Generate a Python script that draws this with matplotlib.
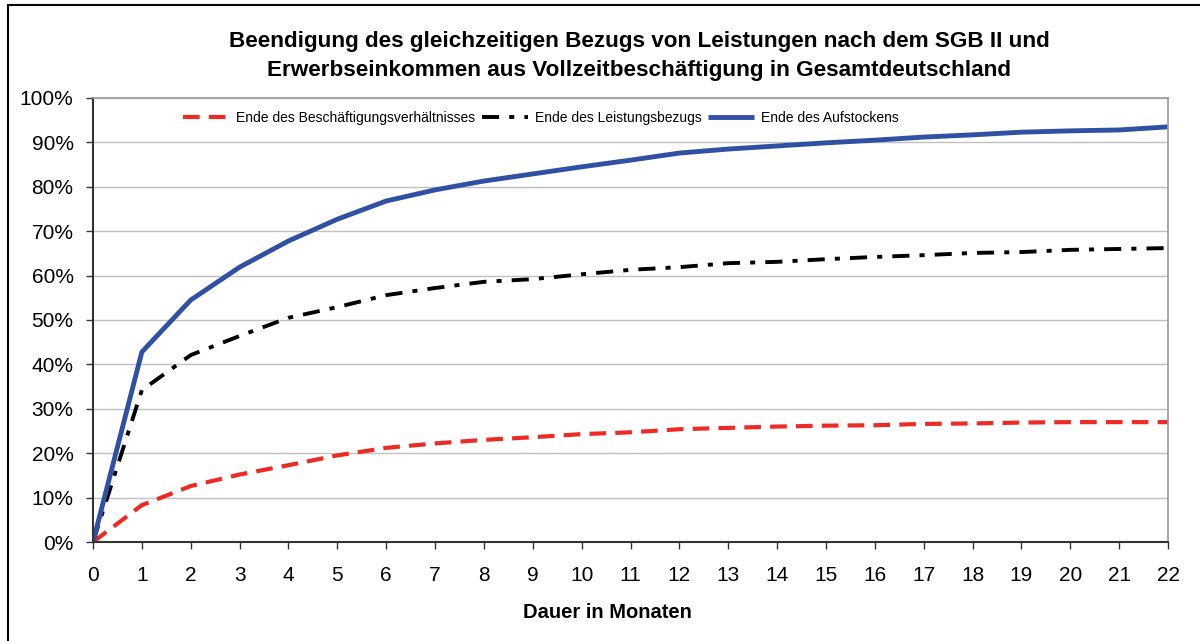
import matplotlib.pyplot as plt
from matplotlib.lines import Line2D
from matplotlib.ticker import FuncFormatter, MultipleLocator

plt.rcParams["font.family"] = ["Liberation Sans", "DejaVu Sans"]

months = list(range(23))

ende_beschaeftigung = [0, 8.3, 12.6, 15.2, 17.3, 19.5, 21.2, 22.2, 23.0, 23.6, 24.3,
                       24.7, 25.4, 25.7, 26.0, 26.2, 26.3, 26.6, 26.7, 26.9, 27.0,
                       27.0, 27.0]
ende_leistungsbezug = [0, 34.2, 42.1, 46.4, 50.5, 52.9, 55.6, 57.2, 58.6, 59.2, 60.3,
                       61.3, 61.9, 62.8, 63.1, 63.7, 64.2, 64.6, 65.1, 65.3, 65.8,
                       66.0, 66.2]
ende_aufstocken = [0, 42.8, 54.5, 61.9, 67.8, 72.7, 76.8, 79.3, 81.3, 82.9, 84.5,
                   86.0, 87.6, 88.5, 89.2, 89.9, 90.5, 91.2, 91.7, 92.3, 92.6,
                   92.8, 93.5]

labels = [
    "Ende des Beschäftigungsverhältnisses",
    "Ende des Leistungsbezugs",
    "Ende des Aufstockens",
]

fig = plt.figure(figsize=(12, 6.41), dpi=100)
ax = fig.add_axes([93 / 1200, 1 - 542 / 641, (1168 - 93) / 1200, (542 - 98) / 641])

ax.plot(months, ende_beschaeftigung, color="#ee2a24", linewidth=3,
        linestyle=(0, (4, 2.2)), label=labels[0])
ax.plot(months, ende_leistungsbezug, color="black", linewidth=2.8,
        linestyle=(0, (4.4, 2.6, 1.3, 2.6)), label=labels[1])
ax.plot(months, ende_aufstocken, color="#3050a3", linewidth=3.5,
        solid_capstyle="butt", label=labels[2])

ax.set_xlim(0, 22)
ax.set_ylim(0, 100)
ax.xaxis.set_major_locator(MultipleLocator(1))
ax.yaxis.set_major_locator(MultipleLocator(10))
ax.yaxis.set_major_formatter(FuncFormatter(lambda v, _: f"{v:.0f}%"))
ax.tick_params(axis="both", labelsize=15, direction="out", length=5,
               width=1, color="#333333")
ax.tick_params(axis="x", pad=12)
ax.tick_params(axis="y", pad=9)
ax.grid(axis="y", color="#c0c0c0", linewidth=1)
ax.set_axisbelow(True)

ax.spines["top"].set_color("#9a9a9a")
ax.spines["right"].set_color("#9a9a9a")
ax.spines["left"].set_color("#333333")
ax.spines["bottom"].set_color("#333333")
for side in ["top", "right"]:
    ax.spines[side].set_linewidth(1.2)
for side in ["left", "bottom"]:
    ax.spines[side].set_linewidth(1.5)

fig.text(607 / 1200, 1 - 612 / 641, "Dauer in Monaten", ha="center", va="center",
         fontsize=14.5, fontweight="bold")

fig.text(639 / 1200, 1 - 56 / 641,
         "Beendigung des gleichzeitigen Bezugs von Leistungen nach dem SGB II und\n"
         "Erwerbseinkommen aus Vollzeitbeschäftigung in Gesamtdeutschland",
         ha="center", va="center", fontsize=16.2, fontweight="bold", linespacing=1.45)

ax.legend(loc="center", bbox_to_anchor=(541 / 1200, 1 - 118 / 641),
          bbox_transform=fig.transFigure, ncol=3, frameon=False, fontsize=10,
          handlelength=3.3, handletextpad=0.5, columnspacing=0.5)

# outer chart border (top and left edges are visible in the picture)
fig.add_artist(Line2D([8 / 1200, 1.0], [1 - 5 / 641, 1 - 5 / 641],
                      transform=fig.transFigure, color="black", linewidth=1.5))
fig.add_artist(Line2D([8 / 1200, 8 / 1200], [0.0, 1 - 5 / 641],
                      transform=fig.transFigure, color="black", linewidth=1.5))

fig.savefig("out.png", dpi=100)
